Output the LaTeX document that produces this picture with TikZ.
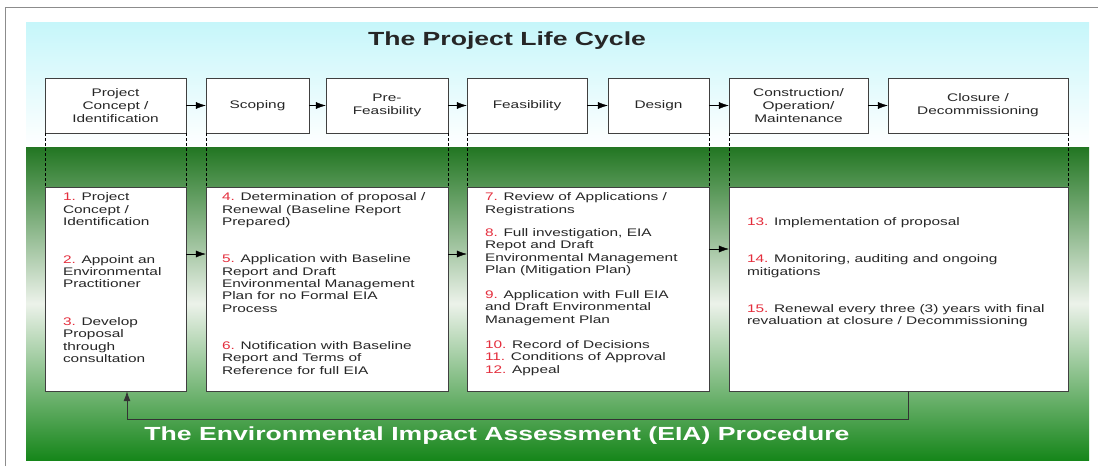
\documentclass[tikz,border=0pt]{standalone}
\usepackage{fontspec}
\setmainfont{Liberation Sans}[FakeStretch=1.4]
\usetikzlibrary{arrows.meta}

\definecolor{skycyan}{RGB}{198,246,250}
\definecolor{darkgreen}{RGB}{34,118,34}
\definecolor{deepgreen}{RGB}{22,134,26}
\definecolor{palegreen}{RGB}{236,242,234}
\definecolor{stepred}{RGB}{228,45,60}
\definecolor{framegray}{RGB}{140,140,140}
\newcommand{\nr}[1]{\textcolor{stepred}{#1.}}

\begin{document}
\begin{tikzpicture}
  [x=1pt,y=-1pt,>={Latex[length=10pt,width=7pt]},
   every node/.style={font=\fontsize{11}{13}\selectfont,text=black!85},
   cyclebox/.style={draw=black!75,fill=white,minimum height=55pt,align=center,inner sep=2pt},
   eiabox/.style={draw=black!75,fill=white,minimum height=204pt},
   eiatext/.style={anchor=north west,align=left,inner sep=0pt,font=\fontsize{11}{12.4}\selectfont},
   guide/.style={black,dash pattern=on 3pt off 2pt,line width=.6pt}]
  \useasboundingbox (0,0) rectangle (1098,466);

  % background bands
  \shade[top color=skycyan,bottom color=white] (26,22) rectangle (1089,147);
  \shade[top color=darkgreen,bottom color=deepgreen,middle color=palegreen] (26,147) rectangle (1089,460);
  \draw[framegray,line width=1pt] (5,466) -- (5,7) -- (1098,7);

  \node[font=\fontsize{19}{22}\selectfont\bfseries] (cycletitle) at (507,41) {The Project Life Cycle};

  % project life cycle
  \node[cyclebox,minimum width=141pt] (lc1) at (115.5,105.5) {Project\\Concept /\\Identification};
  \node[cyclebox,minimum width=103pt] (lc2) at (257.5,105.5) {Scoping};
  \node[cyclebox,minimum width=122pt] (lc3) at (387,105.5)   {Pre-\\Feasibility};
  \node[cyclebox,minimum width=120pt] (lc4) at (527,105.5)   {Feasibility};
  \node[cyclebox,minimum width=101pt] (lc5) at (658.5,105.5) {Design};
  \node[cyclebox,minimum width=139pt] (lc6) at (798.5,105.5) {Construction/\\Operation/\\Maintenance};
  \node[cyclebox,minimum width=180pt] (lc7) at (978,105.5)   {Closure /\\Decommissioning};

  \draw[->] (lc1) -- (lc2);
  \draw[->] (lc2) -- (lc3);
  \draw[->] (lc3) -- (lc4);
  \draw[->] (lc4) -- (lc5);
  \draw[->] (lc5) -- (lc6);
  \draw[->] (lc6) -- (lc7);

  % EIA procedure
  \node[eiabox,minimum width=141pt] (eia1) at (115.5,289) {};
  \node[eiabox,minimum width=242pt] (eia2) at (327,289)   {};
  \node[eiabox,minimum width=242pt] (eia3) at (588,289)   {};
  \node[eiabox,minimum width=339pt] (eia4) at (898.5,289) {};

  \draw[guide] (lc1.south west) -- (lc1.south west |- eia1.north);
  \draw[guide] (lc1.south east) -- (lc1.south east |- eia1.north);
  \draw[guide] (lc2.south west) -- (lc2.south west |- eia2.north);
  \draw[guide] (lc3.south east) -- (lc3.south east |- eia2.north);
  \draw[guide] (lc4.south west) -- (lc4.south west |- eia3.north);
  \draw[guide] (lc5.south east) -- (lc5.south east |- eia3.north);
  \draw[guide] (lc6.south west) -- (lc6.south west |- eia4.north);
  \draw[guide] (lc7.south east) -- (lc7.south east |- eia4.north);

  \node[eiatext] (txt1) at ([xshift=18pt,yshift=-6pt]eia1.north west)
    {\nr{1} Project\\Concept /\\Identification\\[25pt]
     \nr{2} Appoint an\\Environmental\\Practitioner\\[25pt]
     \nr{3} Develop\\Proposal\\through\\consultation};
  \node[eiatext] (txt2) at ([xshift=16pt,yshift=-6pt]eia2.north west)
    {\nr{4} Determination of proposal /\\Renewal (Baseline Report\\Prepared)\\[24.6pt]
     \nr{5} Application with Baseline\\Report and Draft\\Environmental Management\\Plan for no Formal EIA\\Process\\[24.6pt]
     \nr{6} Notification with Baseline\\Report and Terms of\\Reference for full EIA};
  \node[eiatext] (txt3) at ([xshift=18pt,yshift=-6pt]eia3.north west)
    {\nr{7} Review of Applications /\\Registrations\\[10.6pt]
     \nr{8} Full investigation, EIA\\Repot and Draft\\Environmental Management\\Plan (Mitigation Plan)\\[12.6pt]
     \nr{9} Application with Full EIA\\and Draft Environmental\\Management Plan\\[12.6pt]
     \nr{10} Record of Decisions\\\nr{11} Conditions of Approval\\\nr{12} Appeal};
  \node[eiatext] (txt4) at ([xshift=18pt,yshift=-31pt]eia4.north west)
    {\nr{13} Implementation of proposal\\[24.6pt]
     \nr{14} Monitoring, auditing and ongoing\\mitigations\\[24.6pt]
     \nr{15} Renewal every three (3) years with final\\revaluation at closure / Decommissioning};

  \draw[->] ([yshift=35pt]eia1.east) -- ([yshift=35pt]eia2.west);
  \draw[->] ([yshift=35pt]eia2.east) -- ([yshift=35pt]eia3.west);
  \draw[->] ([yshift=40pt]eia3.east) -- ([yshift=40pt]eia4.west);
  \draw[->,black!80,line width=.8pt] ([xshift=10pt]eia4.south) -- ++(0,28) -| ([xshift=11.5pt]eia1.south);

  \node[font=\fontsize{19}{22}\selectfont\bfseries,text=white] (eiatitle) at (497,436)
    {The Environmental Impact Assessment (EIA) Procedure};
\end{tikzpicture}
\end{document}
